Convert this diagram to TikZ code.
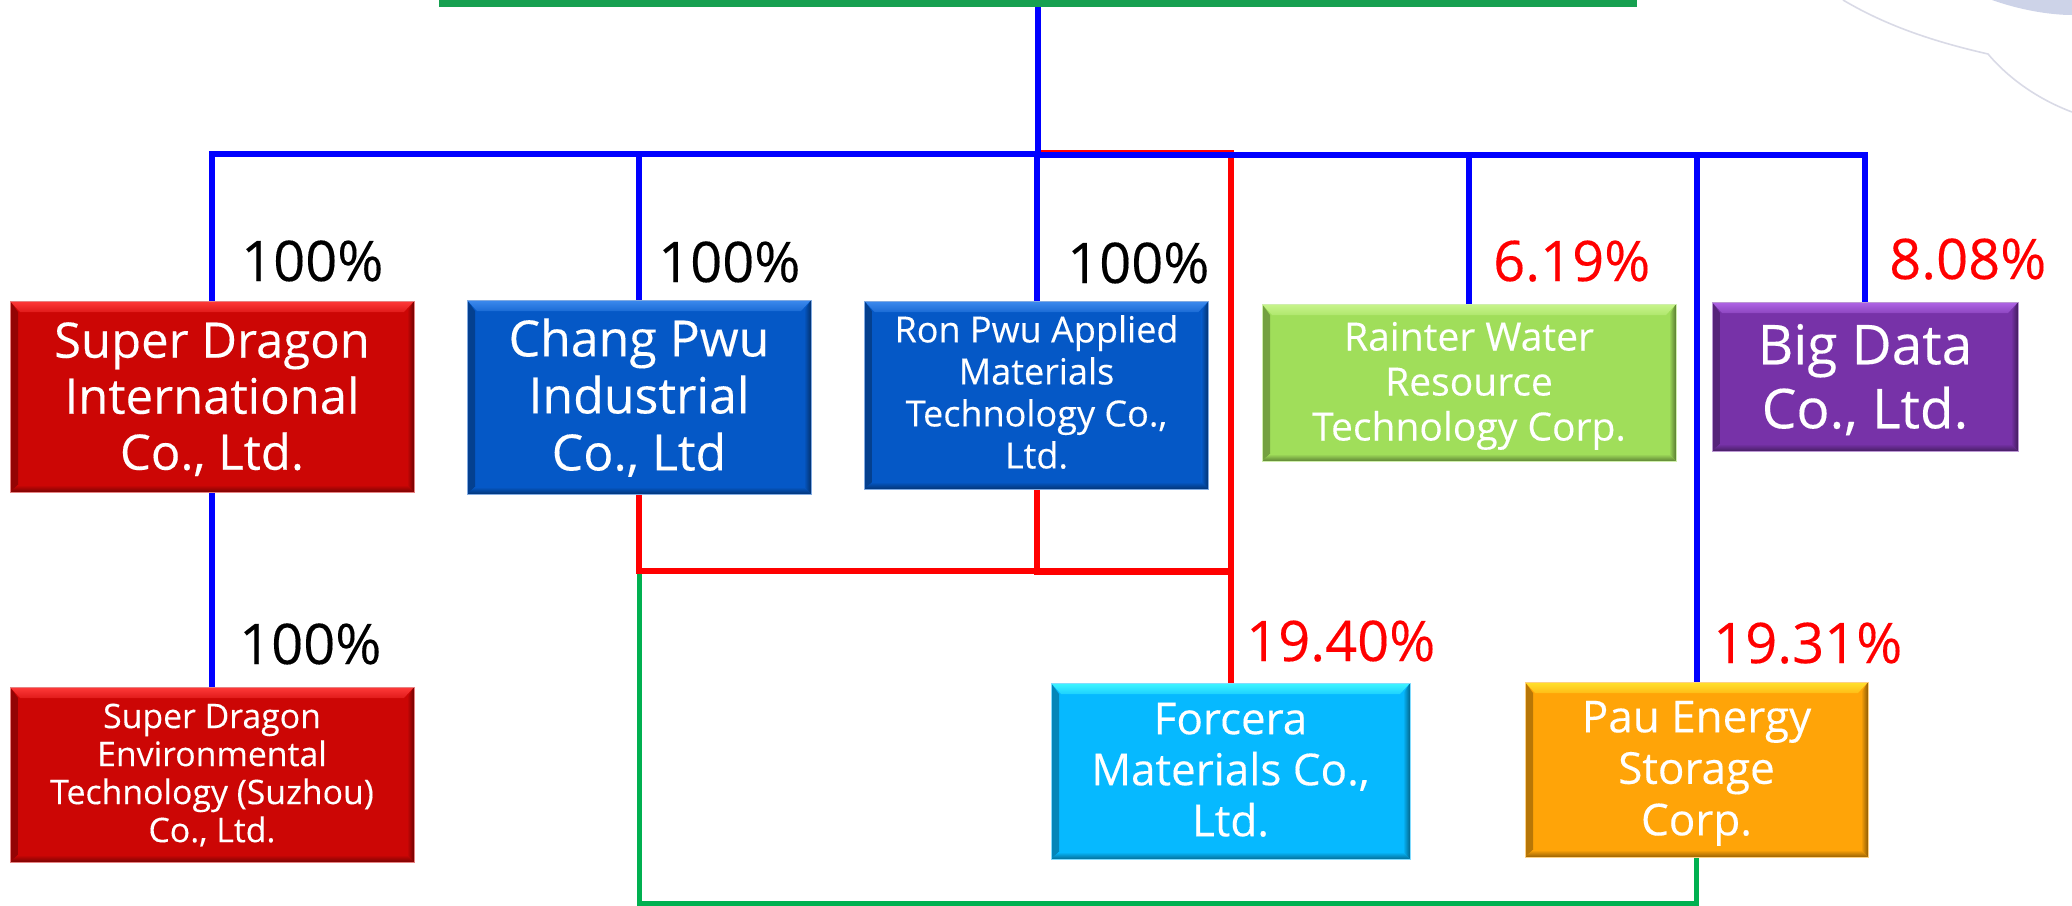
\documentclass[tikz,border=0pt]{standalone}
\usepackage{fontspec}
\setmainfont{Open Sans}[FakeBold=0.25]
\usetikzlibrary{backgrounds}
\definecolor{cRed}{HTML}{CC0605}\definecolor{cRedT}{HTML}{FF3A3A}
\definecolor{cBlue}{HTML}{0558C6}\definecolor{cBlueT}{HTML}{3D8AEE}
\definecolor{cLime}{HTML}{A0DE5A}\definecolor{cLimeT}{HTML}{C8F58C}
\definecolor{cPurp}{HTML}{7732A8}\definecolor{cPurpT}{HTML}{B065E6}
\definecolor{cCyan}{HTML}{06B9FF}\definecolor{cCyanT}{HTML}{3FF6FF}
\definecolor{cOran}{HTML}{FFA408}\definecolor{cOranT}{HTML}{FFE22E}
\definecolor{cBar}{HTML}{16A050}
\definecolor{lnBlue}{HTML}{0000FF}\definecolor{lnRed}{HTML}{FF0000}\definecolor{lnGreen}{HTML}{00B050}
\definecolor{decoA}{HTML}{CDD3E8}\definecolor{decoB}{HTML}{D9DAE6}
\newcommand{\boxtext}[2]{\setlength{\tabcolsep}{0pt}\raisebox{#1}[\height][\depth]{\begin{tabular}{c}#2\end{tabular}}}
\tikzset{
  bevelbox/.style n args={4}{
    draw=#1!50!white, line width=0.7pt, fill=#1, text=white, inner sep=0pt,
    minimum width=#3, minimum height=#4,
    path picture={
      \shade[left color=#1!72!black, right color=#1] (path picture bounding box.north west) -- (path picture bounding box.south west)
        -- ([xshift=8pt,yshift=7pt]path picture bounding box.south west)
        -- ([xshift=8pt,yshift=-11pt]path picture bounding box.north west) -- cycle;
      \shade[right color=#1!55!black, left color=#1] (path picture bounding box.north east) -- (path picture bounding box.south east)
        -- ([xshift=-7pt,yshift=7pt]path picture bounding box.south east)
        -- ([xshift=-7pt,yshift=-11pt]path picture bounding box.north east) -- cycle;
      \shade[bottom color=#1!60!black, top color=#1] (path picture bounding box.south west) -- (path picture bounding box.south east)
        -- ([xshift=-7pt,yshift=7pt]path picture bounding box.south east)
        -- ([xshift=8pt,yshift=7pt]path picture bounding box.south west) -- cycle;
      \shade[top color=#2, bottom color=#2!40!#1] (path picture bounding box.north west) -- (path picture bounding box.north east)
        -- ([xshift=-10pt,yshift=-11pt]path picture bounding box.north east)
        -- ([xshift=10pt,yshift=-11pt]path picture bounding box.north west) -- cycle;
    }},
  pct/.style={inner sep=0pt, anchor=base west, font=\fontsize{56}{60}\selectfont},
  pctb/.style={pct, text=black},
  pctr/.style={pct, text=lnRed},
  lnb/.style={draw=lnBlue, line width=6pt},
  lnr/.style={draw=lnRed, line width=6pt},
  lng/.style={draw=lnGreen, line width=5pt}
}
\begin{document}
\begin{tikzpicture}[x=1pt,y=-1pt]
\useasboundingbox (0,0) rectangle (2072,905);
\fill[decoA] (1992,0) .. controls (2020,10) and (2050,15) .. (2072,15) -- (2072,0) -- cycle;
\draw[decoB, line width=1.6pt] (1843,0) .. controls (1890,28) and (1940,43) .. (1988,54) .. controls (2010,80) and (2040,100) .. (2072,112);

\node[fill=cBar, inner sep=0pt, minimum width=1198pt, minimum height=7pt] (top) at (1037.5,3.5) {};

\node[bevelbox={cRed}{cRedT}{404pt}{191pt}, font=\fontsize{49}{56}\selectfont] (sd) at (212,396.5) {\boxtext{-6pt}{Super Dragon\\International\\Co., Ltd.}};
\node[bevelbox={cBlue}{cBlueT}{344pt}{194pt}, font=\fontsize{50}{57}\selectfont] (ch) at (639,397) {\boxtext{-5pt}{Chang Pwu\\Industrial\\Co., Ltd}};
\node[bevelbox={cBlue}{cBlueT}{344pt}{188pt}, font=\fontsize{36}{42}\selectfont] (ron) at (1036.5,395) {\boxtext{-2pt}{Ron Pwu Applied\\Materials\\Technology Co.,\\Ltd.}};
\node[bevelbox={cLime}{cLimeT}{414pt}{157pt}, font=\fontsize{39}{45}\selectfont] (ra) at (1469,382.5) {\boxtext{-4pt}{Rainter Water\\Resource\\Technology Corp.}};
\node[bevelbox={cPurp}{cPurpT}{306pt}{149pt}, font=\fontsize{55}{64}\selectfont] (bd) at (1865,376.5) {\boxtext{-7pt}{Big Data\\Co., Ltd.}};
\node[bevelbox={cRed}{cRedT}{404pt}{175pt}, font=\fontsize{33.8}{38}\selectfont] (sde) at (212,774.5) {\boxtext{-3pt}{Super Dragon\\Environmental\\Technology (Suzhou)\\Co., Ltd.}};
\node[bevelbox={cCyan}{cCyanT}{359pt}{176pt}, font=\fontsize{44}{51}\selectfont] (fo) at (1230.5,771) {\boxtext{-4pt}{Forcera\\Materials Co.,\\Ltd.}};
\node[bevelbox={cOran}{cOranT}{343pt}{175pt}, font=\fontsize{44}{51.5}\selectfont] (pau) at (1696.5,769.5) {\boxtext{-4pt}{Pau Energy\\Storage\\Corp.}};

\node[pctb] (p1) at (241,281) {100\%};
\node[pctb] (p2) at (658,282) {100\%};
\node[pctb] (p3) at (1067,283) {100\%};
\node[pctb] (p4) at (239,664) {100\%};
\node[pctr] (p5) at (1493,281) {6.19\%};
\node[pctr] (p6) at (1889,279) {8.08\%};
\node[pctr] (p7) at (1246,661) {19.40\%};
\node[pctr] (p8) at (1713,663) {19.31\%};

\coordinate (busa) at (1038,153.5);
\coordinate (busb) at (1038,154.5);
\coordinate (redtop) at (1041,152.5);
\coordinate (redlow) at (1231,571);
\coordinate (redlowb) at (1231,571.5);
\coordinate (grnb) at (639,903);

\begin{scope}[on background layer]
  \draw[lng, line join=miter] (ch.south |- redlow) -- (grnb) -| (pau.south);
  \draw[lnr] (redtop) -| (fo.north);
  \draw[lnr] (ch.south) |- (redlow);
  \draw[lnr] (ron.south) |- (redlowb);
  \draw[lnb] (top.south -| busa) -- (busa);
  \draw[lnb] (sd.north) |- (busa);
  \draw[lnb] (bd.north) |- (busb);
  \draw[lnb] (ch.north) -- (ch.north |- busa);
  \draw[lnb] (ron.north) -- (ron.north |- busa);
  \draw[lnb] (ra.north) -- (ra.north |- busb);
  \draw[lnb] (pau.north) -- (pau.north |- busb);
  \draw[lnb] (sd.south) -- (sde.north);
\end{scope}
\end{tikzpicture}
\end{document}
